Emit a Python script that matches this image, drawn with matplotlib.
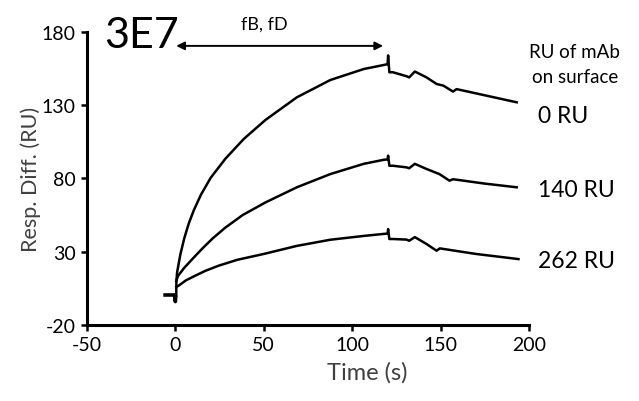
import matplotlib
matplotlib.use("Agg")
import matplotlib.pyplot as plt

plt.rcParams['font.family'] = ['Lato', 'DejaVu Sans']
plt.rcParams['axes.unicode_minus'] = False

# Baseline before injection
base_t = [-6.8, -0.5, 0.0, 0.3, 0.5]
base_v = [0.5, 0.5, -4.0, 0.5, 0.5]

# 0 RU of mAb
t0 = [0.5, 0.6, 1.0, 2.8, 5.0, 7.5, 10.5, 14.5, 20.0, 28.3, 38.7, 51.0, 68.7, 87.6, 106.5, 118.0, 120.0,
      120.3, 121.0, 123.0, 130.7, 132.2, 135.4, 142.0, 147.7, 151.5, 157.0, 159.0, 176.0, 193.0]
v0 = [0.5, 10.0, 16.0, 28.0, 39.0, 49.0, 58.5, 69.0, 80.5, 93.5, 107.0, 120.0, 135.4, 147.2, 154.7, 157.5, 158.0,
      164.0, 152.5, 152.5, 149.8, 149.0, 153.0, 149.0, 144.5, 143.4, 139.3, 141.0, 136.5, 132.0]

# 140 RU of mAb
t140 = [0.5, 1.5, 5.0, 9.6, 15.1, 21.0, 28.3, 38.0, 51.0, 68.7, 87.6, 106.5, 118.0, 120.0,
        120.3, 121.0, 123.0, 130.7, 132.2, 135.4, 142.0, 149.3, 155.0, 157.0, 175.0, 193.0]
v140 = [10.0, 13.5, 19.0, 25.0, 32.0, 39.0, 46.5, 55.0, 63.7, 74.0, 83.0, 90.0, 92.8, 93.0,
        95.6, 88.7, 88.7, 87.6, 87.0, 90.0, 86.5, 83.0, 78.5, 79.5, 76.5, 74.0]

# 262 RU of mAb
t262 = [0.5, 2.0, 6.0, 11.3, 17.0, 24.5, 35.0, 50.0, 68.7, 87.6, 106.5, 118.0, 120.0,
        120.3, 121.0, 123.0, 130.7, 132.2, 135.4, 142.0, 147.7, 149.5, 170.0, 194.0]
v262 = [6.0, 7.0, 10.5, 13.7, 17.0, 20.5, 24.5, 28.5, 34.0, 38.2, 40.8, 42.2, 42.4,
        45.5, 38.7, 38.7, 38.3, 37.5, 40.0, 35.3, 30.7, 32.3, 28.5, 25.0]

x_ticks = [-50, 0, 50, 100, 150, 200]
y_ticks = [-20, 30, 80, 130, 180]

series_labels = ["0 RU", "140 RU", "262 RU"]
label_y = [123.3, 72.8, 24.0]

fig = plt.figure(figsize=(6.39, 4.02), dpi=100)
ax = fig.add_axes([0.136, 0.189, 0.692, 0.729])

lw = 1.8
ax.plot(base_t, base_v, color='black', lw=2.6, solid_capstyle='butt')
ax.plot(t0, v0, color='black', lw=lw)
ax.plot(t140, v140, color='black', lw=lw)
ax.plot(t262, v262, color='black', lw=lw)

ax.set_xlim(-50, 200)
ax.set_ylim(-20, 180)
ax.set_xticks(x_ticks)
ax.set_yticks(y_ticks)
ax.tick_params(direction='out', length=4, width=1.8, labelsize=14, pad=4)
for s in ['top', 'right']:
    ax.spines[s].set_visible(False)
for s in ['left', 'bottom']:
    ax.spines[s].set_linewidth(2.2)

ax.set_ylabel("Resp. Diff. (RU)", fontsize=15.5, color='#404040', labelpad=0.5)
ax.text(108.5, -52, "Time (s)", fontsize=17, color='#404040', ha='center', va='center', clip_on=False)

ax.text(-40, 178, "3E7", fontsize=31, ha='left', va='center', clip_on=False)
ax.annotate("", xy=(0.5, 170.5), xytext=(117.5, 170.5),
            arrowprops=dict(arrowstyle='<|-|>', color='black', lw=1.4, mutation_scale=12, shrinkA=0, shrinkB=0),
            annotation_clip=False)
ax.text(50.4, 185.5, "fB, fD", fontsize=13, ha='center', va='center', clip_on=False)

ax.text(225.8, 167, "RU of mAb", fontsize=13.5, ha='center', va='center', clip_on=False)
ax.text(225.8, 149.3, "on surface", fontsize=13.5, ha='center', va='center', clip_on=False)
for lab, yy in zip(series_labels, label_y):
    ax.text(205, yy, lab, fontsize=16.5, ha='left', va='center', clip_on=False)

fig.savefig("out.png", dpi=100)
